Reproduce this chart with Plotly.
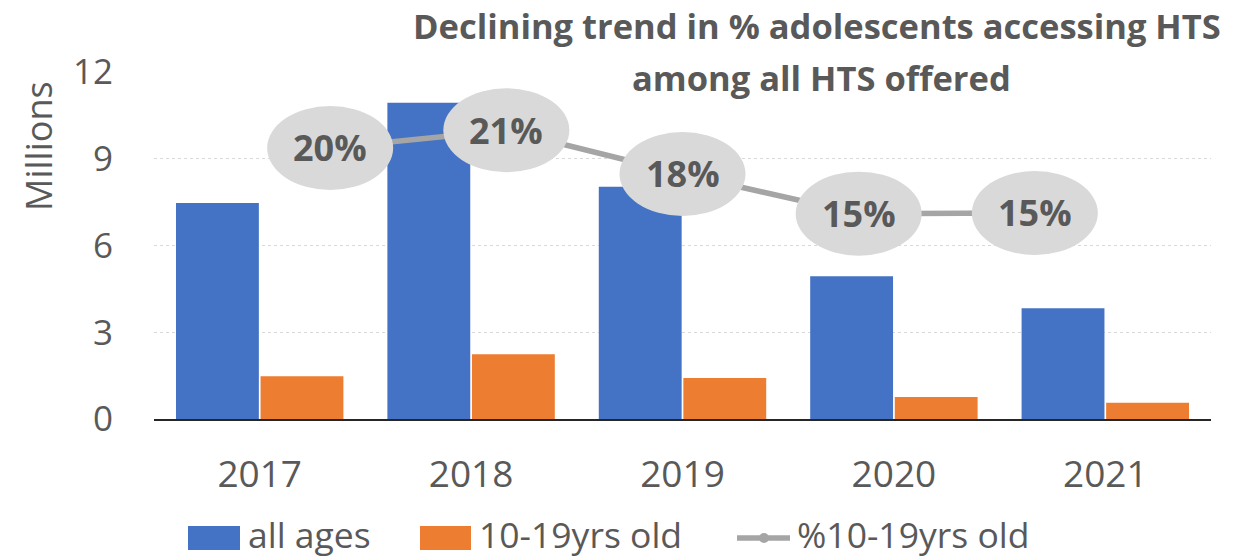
import plotly.graph_objects as go

# ---- data ----
years = ["2017", "2018", "2019", "2020", "2021"]
all_ages = [7.47, 10.94, 8.03, 4.94, 3.83]          # millions
adolescents = [1.48, 2.24, 1.42, 0.76, 0.56]        # millions, 10-19yrs
pct_adolescents = [0.198, 0.211, 0.179, 0.150, 0.1505]
pct_labels = ["20%", "21%", "18%", "15%", "15%"]
y_ticks = [0, 3, 6, 9, 12]
y_tick_text = ["0", "3", "6", "9", "12"]
legend_names = ["all ages", "10-19yrs old", "%10-19yrs old"]
title_lines = ["Declining trend in % adolescents accessing HTS", "among all HTS offered"]

# ---- styling ----
BLUE, ORANGE, GRAY_LINE, BUBBLE, TXT = "#4472C4", "#ED7D31", "#A5A5A5", "#D9D9D9", "#595959"
FONT = "Open Sans"
W, H = 1240, 558
L, R, T, B = 154, 29, 72, 139
PW, PH = W - L - R, H - T - B


def px(x):
    return (x - L) / PW


def py(y):
    return (H - B - y) / PH


line_x = list(range(1, len(years) + 1))

fig = go.Figure()
fig.add_trace(go.Bar(x=years, y=all_ages, name=legend_names[0], marker=dict(color=BLUE, line=dict(width=0))))
fig.add_trace(go.Bar(x=years, y=adolescents, name=legend_names[1], marker=dict(color=ORANGE, line=dict(width=0))))
fig.add_trace(go.Scatter(x=line_x, y=pct_adolescents, name=legend_names[2], mode="lines+markers",
                         line=dict(color=GRAY_LINE, width=5.5), marker=dict(color=GRAY_LINE, size=10),
                         xaxis="x2", yaxis="y2"))

shapes = []
annotations = []
for xi, yi, lab in zip(line_x, pct_adolescents, pct_labels):
    shapes.append(dict(type="circle", xref="x2", yref="y2", xsizemode="pixel", ysizemode="pixel",
                       xanchor=xi, yanchor=yi, x0=-63, x1=63, y0=-42, y1=42,
                       fillcolor=BUBBLE, line=dict(width=0), layer="above"))
    annotations.append(dict(x=xi, y=yi, xref="x2", yref="y2", text=lab, showarrow=False,
                            font=dict(family=FONT, size=36, color=TXT, weight="bold"),
                            xanchor="center", yanchor="middle"))

# title
annotations.append(dict(x=px(817), y=py(25), xref="paper", yref="paper", text="<b>%s</b>" % title_lines[0],
                        showarrow=False, xanchor="center", yanchor="middle",
                        font=dict(family=FONT, size=34.5, color=TXT)))
annotations.append(dict(x=px(821), y=py(78), xref="paper", yref="paper", text="<b>%s</b>" % title_lines[1],
                        showarrow=False, xanchor="center", yanchor="middle",
                        font=dict(family=FONT, size=34.5, color=TXT)))
# y axis title
annotations.append(dict(x=px(38), y=py(146), xref="paper", yref="paper", text="Millions", textangle=-90,
                        showarrow=False, xanchor="center", yanchor="middle",
                        font=dict(family=FONT, size=36, color=TXT)))

# custom legend
shapes.append(dict(type="rect", xref="paper", yref="paper", x0=px(188), x1=px(240), y0=py(550), y1=py(526),
                   fillcolor=BLUE, line=dict(width=0)))
shapes.append(dict(type="rect", xref="paper", yref="paper", x0=px(420), x1=px(471), y0=py(550), y1=py(526),
                   fillcolor=ORANGE, line=dict(width=0)))
shapes.append(dict(type="line", xref="paper", yref="paper", x0=px(737), x1=px(790), y0=py(538), y1=py(538),
                   line=dict(color=GRAY_LINE, width=5.5)))
shapes.append(dict(type="circle", xref="paper", yref="paper", x0=px(759), x1=px(769), y0=py(543), y1=py(533),
                   fillcolor=GRAY_LINE, line=dict(width=0)))
for x0, name in zip([246, 477, 795], legend_names):
    annotations.append(dict(x=px(x0), y=py(534), xref="paper", yref="paper", text=name, showarrow=False,
                            xanchor="left", yanchor="middle", font=dict(family=FONT, size=35.5, color=TXT)))

fig.update_layout(
    width=W, height=H,
    margin=dict(l=L, r=R, t=T, b=B, autoexpand=False),
    paper_bgcolor="white", plot_bgcolor="white",
    barmode="group", bargap=0.2, bargroupgap=0.02,
    showlegend=False,
    font=dict(family=FONT, color=TXT),
    xaxis=dict(type="category", showgrid=False, showline=True, linecolor="#262626", linewidth=2,
               ticks="", tickfont=dict(family=FONT, size=37, color=TXT), ticklabelstandoff=22,
               fixedrange=True),
    yaxis=dict(range=[0, 12], tickvals=y_ticks, ticktext=y_tick_text, showgrid=True,
               gridcolor=BUBBLE, gridwidth=1, griddash="dot", zeroline=False, showline=False,
               ticks="", tickfont=dict(family=FONT, size=35, color=TXT), ticklabelstandoff=40),
    xaxis2=dict(overlaying="x", range=[0, len(years) + 1], visible=False),
    yaxis2=dict(overlaying="y", range=[0, 0.2535], visible=False),
    shapes=shapes,
    annotations=annotations,
)

fig.write_html("out.html", config={"displayModeBar": False},
               post_script="document.body.style.margin='0';document.body.style.overflow='hidden';")
